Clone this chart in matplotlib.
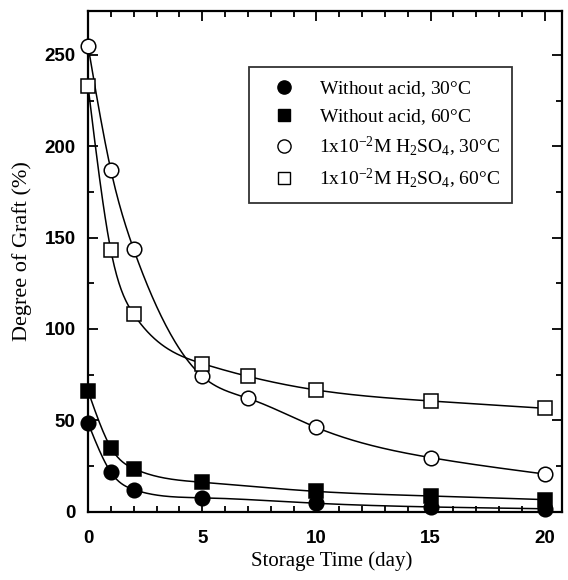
import numpy as np
import matplotlib
matplotlib.use('Agg')
import matplotlib.pyplot as plt
from matplotlib.lines import Line2D
from matplotlib.ticker import MultipleLocator

# storage time (day)
t_no_acid = [0, 1, 2, 5, 10, 15, 20]
t_acid = [0, 1, 2, 5, 7, 10, 15, 20]

# degree of graft (%)
no_acid_30 = [48.5, 21.5, 12, 7.5, 4.5, 2.5, 1.5]
no_acid_60 = [66, 35, 23.5, 16, 11, 8.5, 6.5]
acid_30 = [255, 187, 143.5, 74, 62, 46, 29.5, 20.5]
acid_60 = [233, 143, 108, 81, 74, 66.5, 60.5, 56.5]

labels = ['Without acid, 30$\\degree$C',
          'Without acid, 60$\\degree$C',
          '1x10$^{-2}$M H$_2$SO$_4$, 30$\\degree$C',
          '1x10$^{-2}$M H$_2$SO$_4$, 60$\\degree$C']


def spline(x, y, xn):
    # natural cubic spline, the smooth curve drawn through the points
    x = np.asarray(x, float)
    y = np.asarray(y, float)
    n = len(x)
    h = np.diff(x)
    A = np.zeros((n, n))
    b = np.zeros(n)
    A[0, 0] = A[-1, -1] = 1
    for i in range(1, n - 1):
        A[i, i - 1] = h[i - 1]
        A[i, i] = 2 * (h[i - 1] + h[i])
        A[i, i + 1] = h[i]
        b[i] = 6 * ((y[i + 1] - y[i]) / h[i] - (y[i] - y[i - 1]) / h[i - 1])
    M = np.linalg.solve(A, b)
    idx = np.clip(np.searchsorted(x, xn) - 1, 0, n - 2)
    x0, x1 = x[idx], x[idx + 1]
    hh = h[idx]
    return (M[idx] * (x1 - xn)**3 / (6 * hh) + M[idx + 1] * (xn - x0)**3 / (6 * hh)
            + (y[idx] / hh - M[idx] * hh / 6) * (x1 - xn)
            + (y[idx + 1] / hh - M[idx + 1] * hh / 6) * (xn - x0))


plt.rcParams['mathtext.fontset'] = 'custom'
plt.rcParams['mathtext.rm'] = 'Liberation Serif'
plt.rcParams['mathtext.it'] = 'Liberation Serif:italic'

fig = plt.figure(figsize=(5.68, 5.80), dpi=100)
ax = fig.add_axes([88 / 568, 68.5 / 580, 474 / 568, 500.5 / 580])

series = [
    (t_no_acid, no_acid_30, 'o', 'black'),
    (t_no_acid, no_acid_60, 's', 'black'),
    (t_acid, acid_30, 'o', 'white'),
    (t_acid, acid_60, 's', 'white'),
]

handles = []
for (tx, ty, mk, fc), lab in zip(series, labels):
    xs = np.linspace(0, 20, 400)
    ax.plot(xs, spline(tx, ty, xs), color='black', lw=1.1, zorder=2)
    ms = 10.5 if mk == 'o' else 10
    ax.plot(tx, ty, linestyle='none', marker=mk, ms=ms, mfc=fc, mec='black',
            mew=1.1, zorder=3, clip_on=False)
    handles.append(Line2D([], [], linestyle='none', marker=mk, ms=ms - 1,
                          mfc=fc, mec='black', mew=1.0))

ax.set_xlim(0, 20.75)
ax.set_ylim(0, 274)
ax.xaxis.set_major_locator(MultipleLocator(5))
ax.xaxis.set_minor_locator(MultipleLocator(1))
ax.yaxis.set_major_locator(MultipleLocator(50))
ax.yaxis.set_minor_locator(MultipleLocator(25))
ax.tick_params(which='both', direction='in', top=True, right=True, width=1.3)
ax.tick_params(which='major', length=7, labelsize=13.5, pad=9)
ax.tick_params(axis='x', which='major', pad=13)
ax.tick_params(which='minor', length=4.5)
for lbl in ax.get_xticklabels() + ax.get_yticklabels():
    lbl.set_family('Liberation Sans')
    lbl.set_weight('bold')
for sp in ax.spines.values():
    sp.set_linewidth(1.6)

ax.set_xlabel('Storage Time (day)', family='Liberation Serif', fontsize=15)
ax.set_ylabel('Degree of Graft (%)', family='Liberation Serif', fontsize=16)
ax.xaxis.set_label_coords(0.515, -0.08)
ax.yaxis.set_label_coords(-0.118, 0.52)

leg = ax.legend(handles, labels, loc='upper right', bbox_to_anchor=(0.894, 0.888),
                prop={'family': 'Liberation Serif', 'size': 14}, frameon=True,
                fancybox=False, edgecolor='black', handletextpad=0.6,
                borderpad=0.6, labelspacing=0.42, handlelength=2.4,
                borderaxespad=0)
leg.get_frame().set_linewidth(1.3)

fig.savefig('out.png', dpi=100)
